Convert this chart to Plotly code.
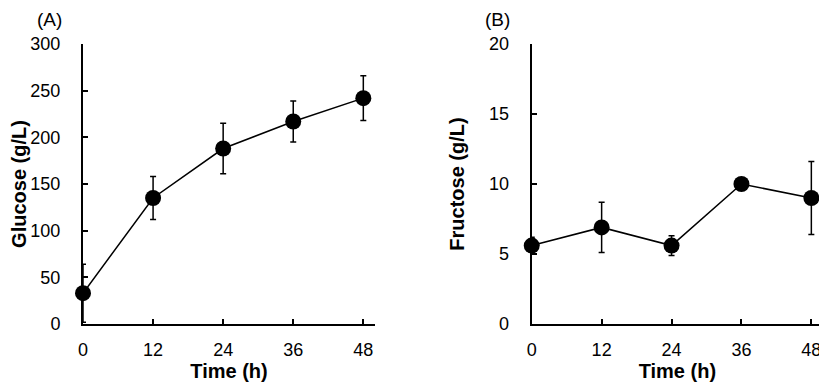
import plotly.graph_objects as go

time_h = [0, 12, 24, 36, 48]
glucose = [33, 135, 188, 217, 242]
glucose_err = [31, 23, 27, 22, 24]
fructose = [5.6, 6.9, 5.6, 10.0, 9.0]
fructose_err = [0.6, 1.8, 0.7, 0.2, 2.6]
x_ticks = [0, 12, 24, 36, 48]
panel_labels = ["(A)", "(B)"]

FONT = "Liberation Sans, Arial, sans-serif"

fig = go.Figure()

for series, err, xa, ya in [(glucose, glucose_err, "x", "y"), (fructose, fructose_err, "x2", "y2")]:
    fig.add_trace(go.Scatter(
        x=time_h, y=series, xaxis=xa, yaxis=ya, mode="lines+markers",
        line=dict(color="black", width=1.5),
        marker=dict(color="black", size=16),
        error_y=dict(type="data", array=err, visible=True, color="black", thickness=1.5, width=3),
        cliponaxis=False, showlegend=False,
    ))

axis_common = dict(
    showline=True, linecolor="black", linewidth=2, mirror=False,
    ticks="inside", ticklen=5, tickwidth=1.5, tickcolor="black",
    showgrid=False, zeroline=False,
    tickfont=dict(family=FONT, size=18, color="black"),
)
title_font = dict(family=FONT, size=20, color="black")

# page is offset by 8px body margin
W, H = 819, 378
ML, MR, MT, MB = 75, 4, 36, 62
PW = W - ML - MR
PH = H - MT - MB

fig.update_layout(
    width=W, height=H,
    margin=dict(l=ML, r=MR, t=MT, b=MB),
    paper_bgcolor="white", plot_bgcolor="white",
    xaxis=dict(domain=[0, 0.3946], range=[0, 50], tickvals=x_ticks, anchor="y",
               title=dict(text="<b>Time (h)</b>", font=title_font, standoff=5),
               ticklabelstandoff=8, **axis_common),
    yaxis=dict(domain=[0, 1], range=[0, 300], dtick=50, anchor="x",
               title=dict(text="<b>Glucose (g/L)</b>", font=title_font, standoff=4),
               ticklabelstandoff=17, **axis_common),
    xaxis2=dict(domain=[0.6064, 1.0], range=[0, 50], tickvals=x_ticks, anchor="y2",
                title=dict(text="<b>Time (h)</b>", font=title_font, standoff=5),
                ticklabelstandoff=8, **axis_common),
    yaxis2=dict(domain=[0, 1], range=[0, 20], dtick=5, anchor="x2",
                title=dict(text="<b>Fructose (g/L)</b>", font=title_font, standoff=19),
                ticklabelstandoff=17, **axis_common),
)

for label, xpos in zip(panel_labels, [49.5, 497.5]):
    fig.add_annotation(text=label, xref="paper", yref="paper",
                       x=(xpos - 8 - ML) / PW, y=(H - MB) / PH,
                       yanchor="top", xanchor="center", borderpad=0,
                       showarrow=False, font=dict(family=FONT, size=19, color="black"))

fig.write_html("out.html")
